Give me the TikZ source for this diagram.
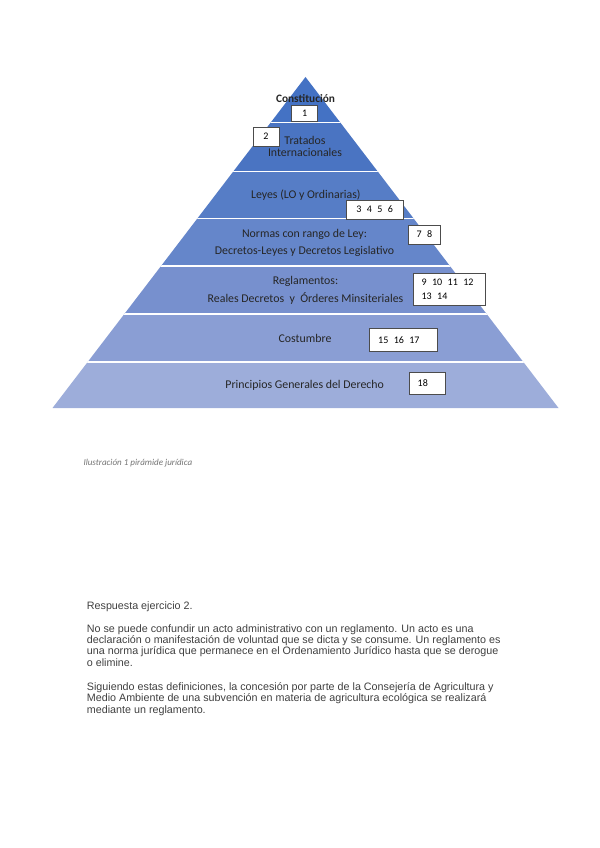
\documentclass[tikz,border=0pt]{standalone}
\usepackage{fontspec}
\setmainfont{Carlito}
\newfontfamily\arialfont{Liberation Sans}
\usetikzlibrary{positioning}
\definecolor{capaA}{HTML}{4472C4}
\definecolor{capaB}{HTML}{4A74C2}
\definecolor{capaC}{HTML}{567DC6}
\definecolor{capaD}{HTML}{6586CA}
\definecolor{capaE}{HTML}{7790CE}
\definecolor{capaF}{HTML}{8A9ED4}
\definecolor{capaG}{HTML}{9DADDA}
\definecolor{textoGris}{HTML}{404040}
\newcommand\hueco{\hspace{5.4pt}}

\begin{document}
\begin{tikzpicture}[
  x=0.035cm, y=-0.035cm,
  nivel/.style={align=center, inner sep=0pt, text=black!85,
                font=\fontsize{11.8}{11.5}\selectfont},
  nivelalto/.style={nivel, font=\fontsize{11.8}{17.5}\selectfont},
  caja/.style={draw=black!70, fill=white, line width=0.6pt, inner sep=0pt,
               font=\fontsize{10}{14}\selectfont, text=black},
  cajaizq/.style={caja, align=left, inner xsep=8.5pt},
  sep/.style={draw=white, line width=1.6pt},
  parrafo/.style={anchor=north west, align=left, inner sep=0pt, text=textoGris,
                  font=\arialfont\fontsize{10.7}{11.2}\selectfont},
]
\useasboundingbox (0,0) rectangle (599,848);

% --- piramide: bandas de color recortadas al triangulo ---
\begin{scope}
  \clip (52.5,408) -- (305.5,77) -- (558.5,408) -- cycle;
  \fill[capaA] (0,70)    rectangle (599,122.5);
  \fill[capaB] (0,122.5) rectangle (599,171.5);
  \fill[capaC] (0,171.5) rectangle (599,218.5);
  \fill[capaD] (0,218.5) rectangle (599,266);
  \fill[capaE] (0,266)   rectangle (599,314);
  \fill[capaF] (0,314)   rectangle (599,362);
  \fill[capaG] (0,362)   rectangle (599,410);
  \draw[sep] (0,122.5) -- (599,122.5);
  \draw[sep] (0,171.5) -- (599,171.5);
  \draw[sep] (0,218.5) -- (599,218.5);
  \draw[sep] (0,266)   -- (599,266);
  \draw[sep] (0,314)   -- (599,314);
  \draw[sep] (0,362)   -- (599,362);
\end{scope}

% --- niveles ---
\node[nivel, font=\bfseries\fontsize{11.3}{11}\selectfont] (const) at (305.5,99) {Constitución};
\node[nivel] (tratados)  at (305,146.2) {Tratados\\Internacionales};
\node[nivel] (leyes)     at (305.8,195) {Leyes (LO y Ordinarias)};
\node[nivelalto] (normas) at (304.5,243) {Normas con rango de Ley:\\Decretos-Leyes y Decretos Legislativo};
\node[nivelalto] (regl)   at (305.5,290.5) {Reglamentos:\\Reales Decretos\ \ y\ \ Órderes Minsiteriales};
\node[nivel] (costumbre) at (305,338.3) {Costumbre};
\node[nivel] (princ)     at (304.7,385.7) {Principios Generales del Derecho};

% --- cajas con numeros ---
\node[caja, minimum width=26pt, minimum height=16pt] (caja1) at (304.7,113.4) {1};
\node[caja, minimum width=26pt, minimum height=19pt] (caja2) at (266,136.4) {2};
\node[caja, minimum width=57pt, minimum height=19pt] (caja3) at (374.7,209.5) {3\hueco 4\hueco 5\hueco 6};
\node[caja, minimum width=32pt, minimum height=19pt] (caja7) at (424.5,234.5) {7\hueco 8};
\node[cajaizq, text width=55pt, minimum height=32pt] (caja9) at (449.2,289.2)
  {9\hueco 10\hueco 11\hueco 12\\13\hueco 14};
\node[cajaizq, text width=50pt, minimum height=23pt] (caja15) at (403.3,340) {15\hueco 16\hueco 17};
\node[cajaizq, text width=19pt, minimum height=22pt] (caja18) at (427.2,382.9) {18};

% --- pie de la ilustracion ---
\node[anchor=base west, inner sep=0pt, text=black!55,
      font=\itshape\fontsize{9}{10}\selectfont] (pie) at (83.3,465)
  {Ilustración 1 pirámide jurídica};

% --- respuesta ---
\node[parrafo] (resp) at (86.7,602) {Respuesta ejercicio 2.};
\node[parrafo] (par1) at (86.7,624.5)
  {No se puede confundir un acto administrativo con un reglamento. Un acto es una\\
   declaración o manifestación de voluntad que se dicta y se consume. Un reglamento es\\
   una norma jurídica que permanece en el Ordenamiento Jurídico hasta que se derogue\\
   o elimine.};
\node[parrafo] (par2) at (86.7,682.5)
  {Siguiendo estas definiciones, la concesión por parte de la Consejería de Agricultura y\\
   Medio Ambiente de una subvención en materia de agricultura ecológica se realizará\\
   mediante un reglamento.};
\end{tikzpicture}
\end{document}
